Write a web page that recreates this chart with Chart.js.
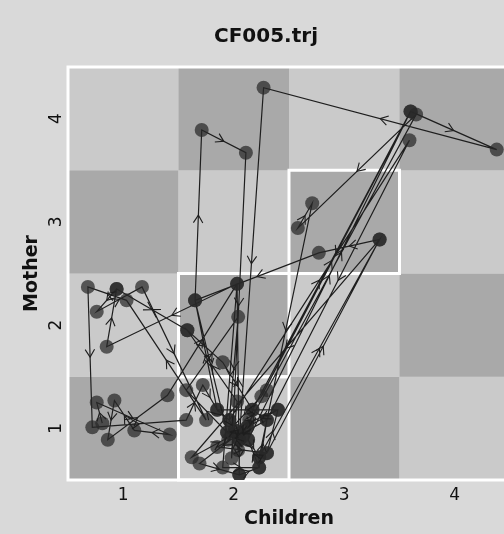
<!DOCTYPE html>
<html>
<head>
<meta charset="utf-8">
<script src="https://cdn.jsdelivr.net/npm/chart.js@4"></script>
<style>
  html, body { margin: 0; padding: 0; background: #d9d9d9; overflow: hidden; }
  #wrap { width: 532px; height: 534px; }
</style>
</head>
<body>
<div id="wrap"><canvas id="trj" width="532" height="534"></canvas></div>
<script>
const TITLE = "CF005.trj";
const X_LABEL = "Children";
const Y_LABEL = "Mother";
const X_TICKS = [1, 2, 3, 4];
const Y_TICKS = [1, 2, 3, 4];

// cells with a white outline (children, mother)
const MARKED_CELLS = [[2, 1], [2, 2], [3, 3]];

// trajectory, in order of observation
const CHILDREN = [
  0.81, 0.76, 1.42, 1.10, 0.92, 0.86, 1.40, 2.03, 0.85, 0.94,
  1.58, 0.94, 0.76, 1.17, 1.75, 1.03, 0.68, 0.72, 1.57, 1.72,
  1.85, 1.65, 1.71, 2.11, 1.98, 2.03, 1.58, 1.90, 2.17, 3.60,
  4.38, 2.27, 2.05, 2.30, 3.65, 2.58, 2.71, 2.23, 3.32, 2.77,
  1.65, 1.94, 1.57, 2.04, 1.96, 3.59, 2.30, 1.85, 2.30, 3.32,
  1.62, 2.12, 1.69, 2.05, 2.03, 1.90, 2.23, 2.13, 3.60, 2.25,
  1.94, 2.40, 2.12, 2.05, 2.05, 2.23, 2.30, 2.17, 2.13, 2.23,
  2.30, 2.40, 1.85, 1.96, 2.01, 2.08, 1.95, 2.14, 2.04, 2.01,
];
const MOTHER = [
  1.05, 1.25, 0.94, 0.98, 1.27, 0.89, 1.32, 2.40, 1.79, 2.35,
  1.95, 2.35, 2.13, 2.37, 1.08, 2.24, 2.37, 1.01, 1.08, 1.42,
  1.18, 2.24, 3.89, 3.67, 0.71, 1.26, 1.95, 1.64, 1.18, 4.07,
  3.70, 4.30, 0.89, 1.37, 4.04, 2.94, 3.18, 0.72, 2.83, 2.70,
  2.24, 0.96, 1.37, 2.08, 1.08, 3.79, 1.08, 0.82, 0.76, 2.83,
  0.72, 1.01, 0.66, 0.55, 2.40, 0.62, 0.62, 0.89, 4.07, 1.31,
  0.96, 1.18, 1.01, 0.89, 0.55, 0.62, 1.08, 1.18, 0.89, 0.72,
  0.76, 1.18, 1.18, 1.08, 0.98, 0.92, 0.89, 1.08, 0.79, 0.98,
];

const LIGHT = "#cacaca";
const DARK = "#a9a9a9";
const FONT = "'DejaVu Sans', sans-serif";

const cellPlugin = {
  id: "cells",
  beforeDraw(chart) {
    const { ctx } = chart;
    ctx.save();
    ctx.fillStyle = "#d9d9d9";
    ctx.fillRect(0, 0, chart.width, chart.height);
    ctx.restore();
  },
  beforeDatasetsDraw(chart) {
    const { ctx, chartArea: a } = chart;
    const xs = chart.scales.x;
    const ys = chart.scales.y;
    ctx.save();
    X_TICKS.forEach((cx) => {
      Y_TICKS.forEach((cy) => {
        const x0 = xs.getPixelForValue(cx - 0.5);
        const x1 = xs.getPixelForValue(cx + 0.5);
        const y0 = ys.getPixelForValue(cy + 0.5);
        const y1 = ys.getPixelForValue(cy - 0.5);
        ctx.fillStyle = (cx + cy) % 2 === 0 ? DARK : LIGHT;
        ctx.fillRect(x0, y0, x1 - x0, y1 - y0);
      });
    });
    ctx.strokeStyle = "#ffffff";
    ctx.lineWidth = 3;
    MARKED_CELLS.forEach(([cx, cy]) => {
      const x0 = xs.getPixelForValue(cx - 0.5);
      const x1 = xs.getPixelForValue(cx + 0.5);
      const y0 = ys.getPixelForValue(cy + 0.5);
      const y1 = ys.getPixelForValue(cy - 0.5);
      ctx.strokeRect(x0, y0, x1 - x0, y1 - y0);
    });
    ctx.strokeRect(a.left, a.top, a.right - a.left, a.bottom - a.top);
    ctx.restore();
  },
};

// little open chevrons half way along every step
const arrowPlugin = {
  id: "arrows",
  afterDatasetsDraw(chart) {
    const pts = chart.getDatasetMeta(0).data;
    const { ctx } = chart;
    ctx.save();
    ctx.strokeStyle = "#1e1e1e";
    ctx.lineWidth = 1.1;
    for (let i = 1; i < pts.length; i++) {
      const p = pts[i - 1];
      const q = pts[i];
      const ang = Math.atan2(q.y - p.y, q.x - p.x);
      const mx = (p.x + q.x) / 2;
      const my = (p.y + q.y) / 2;
      const len = 9;
      const spread = 0.55;
      ctx.beginPath();
      ctx.moveTo(mx - len * Math.cos(ang - spread), my - len * Math.sin(ang - spread));
      ctx.lineTo(mx, my);
      ctx.lineTo(mx - len * Math.cos(ang + spread), my - len * Math.sin(ang + spread));
      ctx.stroke();
    }
    ctx.restore();
  },
};

new Chart(document.getElementById("trj"), {
  type: "scatter",
  data: {
    datasets: [
      {
        data: CHILDREN.map((x, i) => ({ x, y: MOTHER[i] })),
        showLine: true,
        borderColor: "#1e1e1e",
        borderWidth: 1.2,
        pointRadius: 7,
        pointHoverRadius: 7,
        pointBackgroundColor: "rgba(40,40,40,0.72)",
        pointBorderWidth: 0,
        pointBorderColor: "rgba(0,0,0,0)",
      },
    ],
  },
  options: {
    responsive: false,
    animation: false,
    devicePixelRatio: 1,
    layout: { padding: 0 },
    plugins: {
      legend: { display: false },
      tooltip: { enabled: false },
      title: {
        display: true,
        text: TITLE,
        color: "#111",
        font: { family: FONT, size: 20, weight: "bold" },
        padding: { top: 25, bottom: 18 },
      },
    },
    scales: {
      x: {
        min: 0.5,
        max: 4.5,
        afterBuildTicks: (s) => { s.ticks = X_TICKS.map((v) => ({ value: v })); },
        afterFit: (s) => { s.height = 54; },
        grid: { display: false, drawTicks: false },
        border: { display: false },
        ticks: { color: "#111", padding: 5, font: { family: FONT, size: 17 } },
        title: {
          display: true,
          text: X_LABEL,
          color: "#111",
          font: { family: FONT, size: 19, weight: "bold" },
          padding: { top: 0, bottom: 4 },
        },
      },
      y: {
        min: 0.5,
        max: 4.5,
        afterBuildTicks: (s) => { s.ticks = Y_TICKS.map((v) => ({ value: v })); },
        afterFit: (s) => { s.width = 68; },
        grid: { display: false, drawTicks: false },
        border: { display: false },
        ticks: {
          color: "#111",
          padding: 6,
          crossAlign: "center",
          minRotation: 90,
          maxRotation: 90,
          font: { family: FONT, size: 17 },
        },
        title: {
          display: true,
          text: Y_LABEL,
          color: "#111",
          font: { family: FONT, size: 19, weight: "bold" },
          padding: { top: 21, bottom: 0 },
        },
      },
      // empty strip on the right, cut off by the window
      yRight: {
        position: "right",
        min: 0.5,
        max: 4.5,
        afterFit: (s) => { s.width = 22; },
        grid: { display: false, drawTicks: false },
        border: { display: false },
        ticks: { display: false },
      },
    },
  },
  plugins: [cellPlugin, arrowPlugin],
});
</script>
</body>
</html>
